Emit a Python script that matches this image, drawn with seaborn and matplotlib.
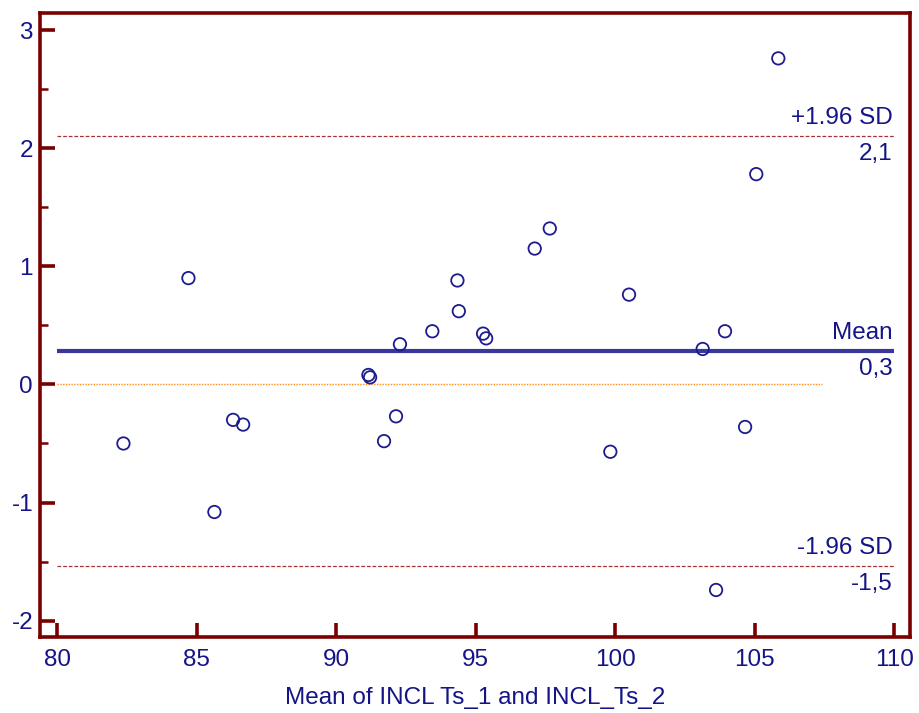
import matplotlib
matplotlib.use("Agg")
import matplotlib.pyplot as plt
from matplotlib import font_manager
from matplotlib.ticker import MultipleLocator
import seaborn as sns
import pandas as pd

# Mean of the two measurements and their difference for each subject
mean_xy = [82.38, 84.71, 85.64, 86.31, 86.67, 91.16, 91.22, 92.15, 91.72, 92.29,
           93.45, 94.35, 94.40, 95.27, 95.38, 97.12, 97.66, 99.83, 100.50, 103.14,
           103.94, 103.62, 104.66, 105.06, 105.85]
diff_xy = [-0.50, 0.90, -1.08, -0.30, -0.34, 0.08, 0.06, -0.27, -0.48, 0.34,
           0.45, 0.88, 0.62, 0.43, 0.39, 1.15, 1.32, -0.57, 0.76, 0.30,
           0.45, -1.74, -0.36, 1.78, 2.76]

# Bias and limits of agreement
mean_diff = 0.28
upper_loa = 2.10
lower_loa = -1.54
zero_line_end = 107.4

x_ticks = [80, 85, 90, 95, 100, 105, 110]
y_ticks = [-2, -1, 0, 1, 2, 3]

df = pd.DataFrame({"mean": mean_xy, "diff": diff_xy})

sns.set_theme(style="white")

# Register the regular Liberation Sans face explicitly (avoid the Narrow variant)
family = "Liberation Sans"
for path in font_manager.findSystemFonts():
    if path.endswith("LiberationSans-Regular.ttf"):
        font_manager.fontManager.addfont(path)
        family = font_manager.FontProperties(fname=path).get_name()
        break
plt.rcParams["font.family"] = [family, "DejaVu Sans"]

navy = "#141487"
frame = "#780000"
fs = 17.5

fig = plt.figure(figsize=(9.2, 7.13), dpi=100)
ax = fig.add_axes([40 / 920, 76 / 713, 870 / 920, 624 / 713])

# Reference lines
ax.plot([80, zero_line_end], [0, 0], color="#ff8c1a", lw=1.0, ls=(0, (1, 1)), zorder=1)
ax.plot([80, 110], [upper_loa, upper_loa], color="#a83232", lw=0.9, ls=(0, (3, 1.5)), zorder=1)
ax.plot([80, 110], [lower_loa, lower_loa], color="#a83232", lw=0.9, ls=(0, (3, 1.5)), zorder=1)
ax.plot([80, 110], [mean_diff, mean_diff], color="#38389a", lw=3.0, solid_capstyle="butt", zorder=2)

sns.scatterplot(data=df, x="mean", y="diff", ax=ax, s=80, marker="o",
                facecolors="none", edgecolor="#1c1c8e", linewidth=1.3, zorder=3)

def fmt(v):
    return f"{v:.1f}".replace(".", ",")

for val, name in [(upper_loa, "+1.96 SD"), (mean_diff, "Mean"), (lower_loa, "-1.96 SD")]:
    ax.annotate(name, (110, val), xytext=(-1, 5), textcoords="offset points",
                ha="right", va="bottom", color=navy, fontsize=fs)
    ax.annotate(fmt(val), (110, val), xytext=(-1, -5), textcoords="offset points",
                ha="right", va="top", color=navy, fontsize=fs)

ax.set_xlim(79.39, 110.57)
ax.set_ylim(-2.138, 3.144)
ax.set_xticks(x_ticks)
ax.set_yticks(y_ticks)
ax.set_xticklabels([str(t) for t in x_ticks])
ax.set_yticklabels([str(t) for t in y_ticks])
ax.yaxis.set_minor_locator(MultipleLocator(0.5))

for s in ax.spines.values():
    s.set_visible(True)
    s.set_color(frame)
    s.set_linewidth(2.6)

ax.tick_params(axis="both", which="major", direction="in", color=frame,
               labelcolor=navy, labelsize=fs, width=2.6)
ax.tick_params(axis="x", which="major", length=10, pad=9, bottom=True)
ax.tick_params(axis="y", which="major", length=11, pad=5, left=True)
ax.tick_params(axis="y", which="minor", direction="in", length=6, width=1.8,
               color=frame, left=True)

ax.set_xlabel("Mean of INCL Ts_1 and INCL_Ts_2", color=navy, fontsize=fs, labelpad=11)
ax.set_ylabel("")

fig.savefig("out.png", dpi=100)
